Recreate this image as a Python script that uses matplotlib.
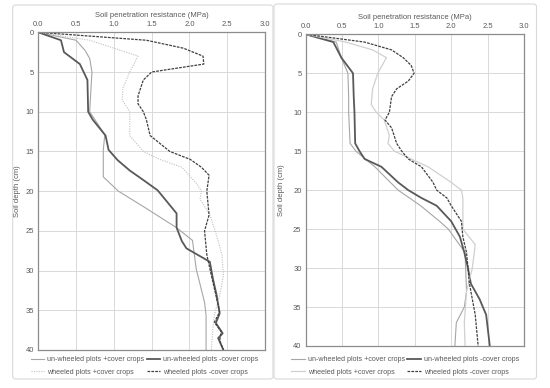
import matplotlib
matplotlib.use('Agg')
import matplotlib.pyplot as plt
from matplotlib.patches import FancyBboxPatch

plt.rcParams['font.family'] = ['Liberation Sans', 'DejaVu Sans']

# --- data: soil depth (cm) vs penetration resistance (MPa) ---
# left panel
left_unw_cc_d = [0, 1, 2.3, 3.3, 5, 10, 12.9, 14.8, 18.2, 20, 22, 24.6, 26.2, 29.8, 34, 35.6, 40]
left_unw_cc_v = [0, 0.50, 0.62, 0.68, 0.71, 0.68, 0.88, 0.86, 0.86, 1.06, 1.40, 1.83, 2.04, 2.09, 2.20, 2.22, 2.22]

left_unw_nc_d = [0, 1, 2.5, 4, 6, 10, 11, 13, 14.8, 16.1, 17.4, 18.6, 19.9, 22.8, 24.6, 26.3, 27.2, 28.9, 31, 33.1, 35.4, 36.6, 37.9, 38.5, 40]
left_unw_nc_v = [0, 0.30, 0.34, 0.55, 0.65, 0.66, 0.72, 0.89, 0.93, 1.05, 1.21, 1.39, 1.58, 1.83, 1.83, 1.90, 1.96, 2.27, 2.31, 2.36, 2.40, 2.35, 2.44, 2.38, 2.45]

left_whl_cc_d = [0, 1, 3, 5, 7, 8.5, 10, 13, 15, 16, 17, 19, 20, 21, 23, 25.6, 28, 30.6, 33.1, 35.6, 37.3, 40]
left_whl_cc_v = [0, 0.68, 1.32, 1.21, 1.12, 1.11, 1.21, 1.21, 1.39, 1.61, 1.90, 2.09, 2.16, 2.14, 2.27, 2.36, 2.43, 2.45, 2.40, 2.33, 2.31, 2.29]

left_whl_nc_d = [0, 1, 2, 3, 4, 5, 6, 8, 9, 10, 11, 13, 15, 16, 17, 18, 20, 23, 25, 28, 30.6, 33.1, 35.2, 36.5, 37.7, 38.8, 40]
left_whl_nc_v = [0, 1.43, 1.92, 2.18, 2.19, 1.50, 1.39, 1.32, 1.32, 1.39, 1.43, 1.48, 1.74, 2.01, 2.16, 2.26, 2.23, 2.26, 2.20, 2.23, 2.29, 2.35, 2.40, 2.33, 2.42, 2.40, 2.45]

# right panel
right_unw_cc_d = [0, 1, 3, 5, 8, 10, 14, 15, 17, 20, 22, 24, 25, 28, 33, 35, 37, 40]
right_unw_cc_v = [0, 0.42, 0.49, 0.58, 0.59, 0.59, 0.61, 0.69, 0.95, 1.27, 1.58, 1.84, 1.96, 2.19, 2.21, 2.18, 2.07, 2.05]

right_unw_nc_d = [0, 1, 3, 5, 8, 10, 14, 15, 16, 17, 19, 20, 21, 22, 24, 26, 28, 30, 32, 34, 36, 40]
right_unw_nc_v = [0, 0.38, 0.49, 0.65, 0.66, 0.67, 0.68, 0.74, 0.81, 1.04, 1.27, 1.41, 1.59, 1.80, 2.00, 2.12, 2.18, 2.23, 2.27, 2.39, 2.48, 2.53]

right_whl_cc_d = [0, 1, 2, 3, 5, 7, 9, 10, 11, 13, 14, 15, 17, 19, 20, 21, 25, 27, 30, 33, 37, 40]
right_whl_cc_v = [0, 0.55, 0.92, 1.11, 0.99, 0.92, 0.90, 0.97, 1.08, 1.15, 1.13, 1.22, 1.68, 2.00, 2.14, 2.16, 2.16, 2.33, 2.29, 2.21, 2.18, 2.19]

right_whl_nc_d = [0, 1, 2, 3, 4, 5, 6, 7, 8, 10, 11, 12, 14, 15, 16, 17, 19, 20, 21, 22, 24, 26, 28, 32, 36, 40]
right_whl_nc_v = [0, 0.81, 1.18, 1.34, 1.45, 1.49, 1.41, 1.25, 1.18, 1.15, 1.09, 1.18, 1.25, 1.32, 1.41, 1.59, 1.75, 1.80, 1.94, 2.00, 2.14, 2.16, 2.21, 2.25, 2.33, 2.37]

labels = ["un-wheeled plots +cover crops", "un-wheeled plots -cover crops",
          "wheeled plots +cover crops", "wheeled plots -cover crops"]
x_ticks = [0.0, 0.5, 1.0, 1.5, 2.0, 2.5, 3.0]
y_ticks = [0, 5, 10, 15, 20, 25, 30, 35, 40]

txt_col = '#595959'
grid_col = '#d9d9d9'

fig = plt.figure(figsize=(5.5, 3.88), dpi=100)

# chart borders (excel style)
for bx in [(12.7, 5, 273, 379), (274, 4, 536.5, 379)]:
    x0, y0, x1, y1 = bx
    fig.patches.append(FancyBboxPatch(
        (x0 / 550, 1 - y1 / 388), (x1 - x0) / 550, (y1 - y0) / 388,
        boxstyle="round,pad=0,rounding_size=0.006", transform=fig.transFigure,
        facecolor='none', edgecolor=grid_col, linewidth=0.8, zorder=-5))


def draw_panel(rect, series, whl_cc_style, legend_x, ylab_pad):
    ax = fig.add_axes(rect)
    ax.patch.set_alpha(0)
    (d1, v1), (d2, v2), (d3, v3), (d4, v4) = series
    h1, = ax.plot(v1, d1, color='#a6a6a6', lw=0.8, label=labels[0])
    h2, = ax.plot(v2, d2, color='#595959', lw=1.3, label=labels[1])
    if whl_cc_style == 'dotted':
        h3, = ax.plot(v3, d3, color='#bfbfbf', lw=0.8, dashes=(1, 1.2), label=labels[2])
    else:
        h3, = ax.plot(v3, d3, color='#d0d0d0', lw=0.9, label=labels[2])
    h4, = ax.plot(v4, d4, color='#404040', lw=0.9, dashes=(2.2, 0.9), label=labels[3])

    ax.set_xlim(0, 3)
    ax.set_ylim(40, 0)
    ax.set_xticks(x_ticks)
    ax.set_xticklabels([f"{t:.1f}" for t in x_ticks])
    ax.set_yticks(y_ticks)
    ax.xaxis.tick_top()
    ax.xaxis.set_label_position('top')
    ax.tick_params(length=0, labelsize=5.5, colors=txt_col, pad=3)
    ax.grid(True, color=grid_col, lw=0.7)
    ax.set_axisbelow(True)
    for s in ax.spines.values():
        s.set_color('#8c8c8c')
        s.set_linewidth(0.9)
    ax.set_xlabel("Soil penetration resistance (MPa)", fontsize=5.5, color=txt_col, labelpad=3)
    ax.set_ylabel("Soil depth (cm)", fontsize=5.5, color=txt_col, labelpad=ylab_pad)
    # row-wise order like excel: legend fills columns first, so interleave
    ax.legend([h1, h3, h2, h4], [labels[0], labels[2], labels[1], labels[3]],
              loc='center', bbox_to_anchor=(legend_x, 0.057), bbox_transform=fig.transFigure,
              ncol=2, frameon=False, fontsize=5.1, labelcolor=txt_col, handlelength=1.9,
              handletextpad=0.45, columnspacing=0.3, labelspacing=0.75, borderpad=0)
    return ax


draw_panel([38.3 / 550, 1 - 350 / 388, (265 - 38.3) / 550, (350 - 32.3) / 388],
           [(left_unw_cc_d, left_unw_cc_v), (left_unw_nc_d, left_unw_nc_v),
            (left_whl_cc_d, left_whl_cc_v), (left_whl_nc_d, left_whl_nc_v)],
           'dotted', 0.263, 3)
draw_panel([305.7 / 550, 1 - 346 / 388, (524 - 305.7) / 550, (346 - 34.3) / 388],
           [(right_unw_cc_d, right_unw_cc_v), (right_unw_nc_d, right_unw_nc_v),
            (right_whl_cc_d, right_whl_cc_v), (right_whl_nc_d, right_whl_nc_v)],
           'solid', 0.737, 6)

fig.savefig('out.png', dpi=100)
